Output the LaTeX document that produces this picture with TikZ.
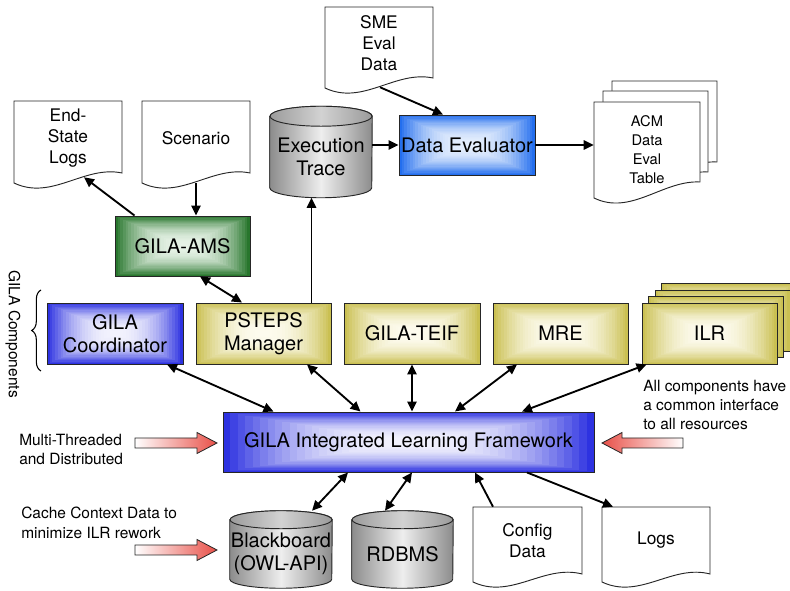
\documentclass[tikz,border=0pt]{standalone}
\usepackage{fontspec}
\setmainfont{TeX Gyre Heros}
\usetikzlibrary{arrows.meta,calc,backgrounds,decorations.pathreplacing}

\definecolor{bluE}{RGB}{45,50,225}
\definecolor{bluC}{RGB}{242,242,253}
\definecolor{cyaE}{RGB}{35,110,238}
\definecolor{cyaC}{RGB}{228,238,253}
\definecolor{grnE}{RGB}{40,118,45}
\definecolor{grnC}{RGB}{230,242,230}
\definecolor{yelE}{RGB}{202,192,82}
\definecolor{yelC}{RGB}{253,251,238}
\definecolor{redA}{RGB}{232,80,72}
\definecolor{cylE}{RGB}{140,140,140}
\definecolor{cylM}{RGB}{238,238,238}
\definecolor{cylT}{RGB}{155,155,155}
\definecolor{cylTM}{RGB}{210,210,210}

\newcommand\boxfont{\fontsize{15}{17.25}\selectfont}
\newcommand\docfont{\fontsize{13}{15.75}\selectfont}
\newcommand\acmfont{\fontsize{11}{14.25}\selectfont}
\newcommand\smallfont{\fontsize{11.6}{14.5}\selectfont}

% document outline: x0, y0, x1, y-left-bottom, y-right-bottom
\newcommand\docshape[5]{(#1,#2) -- (#3,#2) -- (#3,#5) .. controls ({#1+0.65*(#3-#1)},{#4-18}) and ({#1+0.35*(#3-#1)},{#4+18}) .. (#1,#4) -- cycle}
% cylinder drawn around node: name, x radius, y radius
\newcommand\cyl[3]{%
  \shade[cylline, left color=cylE, right color=cylE, middle color=cylM]
    (#1.north west) -- ($(#1.south west)+(0pt,#3)$)
    arc[start angle=180, end angle=360, x radius=#2, y radius=#3]
    -- (#1.north east)
    arc[start angle=0, end angle=180, x radius=#2, y radius=#3] -- cycle;
  \shade[cylline, left color=cylT, right color=cylT, middle color=cylTM]
    (#1.north) ellipse[x radius=#2, y radius=#3];
}
% hollow shaded arrow pointing right: tail x, tip x, centre y
\newcommand\hollowright[3]{%
  \shade[redline, left color=white, right color=redA]
    (#1,{#3-5}) -- ({#2-20},{#3-5}) -- ({#2-20},{#3-10.5}) -- (#2,#3)
    -- ({#2-20},{#3+10.5}) -- ({#2-20},{#3+5}) -- (#1,{#3+5}) -- cycle;
}
\newcommand\hollowleft[3]{%
  \shade[redline, left color=redA, right color=white]
    (#1,{#3-5}) -- ({#2+20},{#3-5}) -- ({#2+20},{#3-10.5}) -- (#2,#3)
    -- ({#2+20},{#3+10.5}) -- ({#2+20},{#3+5}) -- (#1,{#3+5}) -- cycle;
}

\begin{document}
\begin{tikzpicture}[x=0.75pt, y=-0.75pt,
  >={Triangle[length=7.5pt,width=7pt]},
  glow/.style 2 args={path picture={
    \foreach \i in {0,...,24} {
      \pgfmathsetmacro\f{100*(1-(1-\i/24)^2.2)}
      \fill[#2!\f!#1]
        ($(path picture bounding box.south west)!{\i/50}!(path picture bounding box.north east)$)
        rectangle
        ($(path picture bounding box.north east)!{\i/50}!(path picture bounding box.south west)$);
    }}},
  box/.style={draw=black!85, line width=0.7pt, inner sep=0pt, align=center, font=\boxfont},
  docnode/.style={inner sep=0pt, align=center, font=\docfont},
  cylnode/.style={inner sep=0pt, align=center, font=\boxfont},
  docline/.style={draw=black!85, line width=0.7pt, fill=white},
  cylline/.style={draw=black!85, line width=0.7pt},
  redline/.style={draw=black!85, line width=0.6pt},
  conn/.style={line width=1.4pt},
  note/.style={inner sep=0pt, align=left, font=\smallfont}
]
\useasboundingbox (0,0) rectangle (790,591);

% ---------- boxes ----------
\node[box, glow={cyaE}{cyaC}, minimum width=102pt, minimum height=45pt] (dataeval) at (467,145) {Data Evaluator};
\node[box, glow={grnE}{grnC}, minimum width=101.25pt, minimum height=45pt] (gilaams) at (182.5,246) {GILA-AMS};
\node[box, glow={bluE}{bluC}, minimum width=102pt, minimum height=45.75pt] (coord) at (115,333.5) {GILA\\Coordinator};
\node[box, glow={yelE}{yelC}, minimum width=101.25pt, minimum height=45.75pt] (psteps) at (263.5,333.5) {PSTEPS\\Manager};
\node[box, glow={yelE}{yelC}, minimum width=102pt, minimum height=45.75pt] (teif) at (412,333.5) {GILA-TEIF};
\node[box, glow={yelE}{yelC}, minimum width=101.25pt, minimum height=45.75pt] (mre) at (560.5,333.5) {MRE};
\node[box, glow={yelE}{yelC}, minimum width=101.25pt, minimum height=45.75pt] (ilr) at (709.5,333.5) {ILR};
\node[box, glow={bluE}{bluC}, minimum width=278.25pt, minimum height=45pt] (framework) at (408.5,442) {GILA Integrated Learning Framework};

% ---------- documents ----------
\node[docnode, minimum width=81pt, minimum height=55.5pt] (endstate) at (68,138) {End-\\State\\Logs};
\node[docnode, minimum width=81pt, minimum height=55.5pt] (scenario) at (196,138) {Scenario};
\node[docnode, minimum width=81pt, minimum height=54.75pt] (sme) at (379,43.5) {SME\\Eval\\Data};
\node[docnode, font=\acmfont, minimum width=79.5pt, minimum height=72pt] (acm) at (647,150) {ACM\\Data\\Eval\\Table};
\node[docnode, minimum width=81.75pt, minimum height=50.25pt] (config) at (527.5,540.5) {Config\\Data};
\node[docnode, minimum width=81pt, minimum height=50.25pt] (logs) at (656,540.5) {Logs};

% ---------- cylinders ----------
\node[cylnode, minimum width=76.5pt, minimum height=60.75pt] (exectrace) at (321,157) {Execution\\Trace};
\node[cylnode, minimum width=76.5pt, minimum height=51pt] (blackboard) at (281,554) {Blackboard\\(OWL-API)};
\node[cylnode, minimum width=75.75pt, minimum height=51pt] (rdbms) at (402.5,554) {RDBMS};

% ---------- background shapes ----------
\begin{scope}[on background layer]
  \path[docline] \docshape{14}{101}{122}{183}{173};
  \path[docline] \docshape{142}{101}{250}{183}{173};
  \path[docline] \docshape{325}{7}{433}{88}{78};
  \path[docline] \docshape{612}{81}{717}{178}{162};
  \path[docline] \docshape{603}{91}{708}{188}{172};
  \path[docline] \docshape{594}{102}{700}{198}{182};
  \path[docline] \docshape{473}{507}{582}{582}{574};
  \path[docline] \docshape{602}{507}{710}{582}{574};
  \cyl{exectrace}{38.25pt}{7.5pt}
  \cyl{blackboard}{38.25pt}{6.75pt}
  \cyl{rdbms}{37.875pt}{6.75pt}
  \path[draw=black!85, line width=0.7pt, glow={yelE}{yelC}] (661.5,283.5) rectangle (796.5,344.5);
  \path[draw=black!85, line width=0.7pt, glow={yelE}{yelC}] (655,290) rectangle (790,351);
  \path[draw=black!85, line width=0.7pt, glow={yelE}{yelC}] (648.5,296.5) rectangle (783.5,357.5);
\end{scope}

% ---------- hollow red arrows ----------
\hollowright{135}{217}{443}
\hollowright{135}{217}{550}
\hollowleft{683}{602}{443}

% ---------- notes ----------
\node[note, anchor=west] (multi) at (19,449.5) {Multi-Threaded\\and Distributed};
\node[note, anchor=west] (cache) at (21,523) {Cache Context Data to\\minimize ILR rework};
\node[note, anchor=west] (allcomp) at (643,405) {All components have\\a common interface\\to all resources};
\node[note, rotate=-90] (gilacomp) at (13,334) {GILA Components};
\draw[line width=0.8pt, decorate, decoration={brace, amplitude=7pt}] (41,371) -- (41,290);

% ---------- connectors ----------
\coordinate (pe) at ($(psteps.north east)+(-20,0)$);
\draw[conn,->] ($(gilaams.north west)+(20,0)$) -- ($(endstate.south)+(16,2)$);
\draw[conn,->] ($(scenario.south)+(0,8)$) -- (scenario.south |- gilaams.north);
\draw[conn,<->] ($(gilaams.south)+(17.5,0)$) -- ($(psteps.north)+(-21.5,0)$);
\draw[conn,->] (pe) -- (pe |- exectrace.south);
\draw[conn,->] (exectrace.east |- dataeval.west) -- (dataeval.west);
\draw[conn,->] ($(sme.south)+(1,7)$) -- ($(dataeval.north)+(-24,0)$);
\draw[conn,->] (dataeval.east) -- (dataeval.east -| acm.west);
\draw[conn,<->] ($(coord.south)+(52,0)$) -- ($(framework.north)+(-135,0)$);
\draw[conn,<->] ($(psteps.south)+(43.5,0)$) -- ($(framework.north)+(-48,0)$);
\draw[conn,<->] (teif.south) -- (teif.south |- framework.north);
\draw[conn,<->] ($(mre.south)+(-43.5,0)$) -- ($(framework.north)+(46.5,0)$);
\draw[conn,<->] ($(ilr.south west)+(5,0)$) -- ($(framework.north)+(113.5,0)$);
\draw[conn,<->] ($(framework.south)+(-60.5,0)$) -- ($(blackboard.north)+(31,-9)$);
\draw[conn,<->] ($(framework.south)+(3.5,0)$) -- ($(rdbms.north)+(-17.5,-9)$);
\draw[conn,->] ($(config.north)+(-34.5,0)$) -- ($(framework.south)+(66.5,0)$);
\draw[conn,->] ($(framework.south)+(118.5,0)$) -- ($(logs.north)+(-43,0)$);
\end{tikzpicture}
\end{document}
